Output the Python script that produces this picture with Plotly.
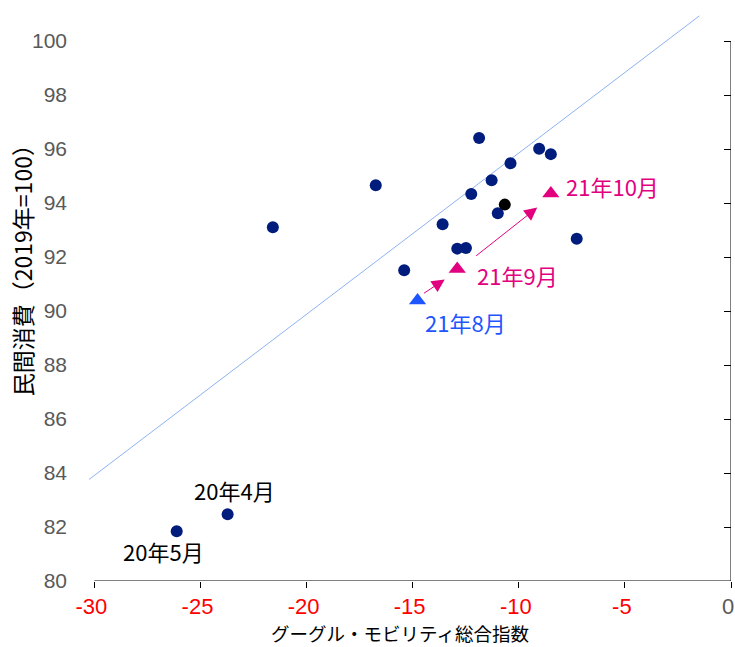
import plotly.graph_objects as go

# ---- data ----
mobility = [-26.12, -23.72, -21.59, -16.74, -15.40, -13.59, -12.90, -12.49, -12.24,
            -11.87, -11.28, -10.99, -10.39, -9.04, -8.49, -7.27]
consumption = [81.84, 82.47, 93.10, 94.66, 91.51, 93.21, 92.31, 92.33, 94.33,
               96.41, 94.84, 93.62, 95.47, 96.01, 95.81, 92.68]

black_x = [-10.66]
black_y = [93.94]

aug_x = [-14.77]
aug_y = [90.39]
sep_oct_x = [-12.90, -8.49]
sep_oct_y = [91.56, 94.35]

trend_x = [-30.25, -1.49]
trend_y = [83.76, 100.93]

arrow_tail_x = [-14.54, -12.08]
arrow_tail_y = [90.62, 92.00]
arrow_head_x = [-13.49, -9.13]
arrow_head_y = [91.17, 93.83]

x_ticks = [-30, -25, -20, -15, -10, -5, 0]
x_ticktext = ["-30", "-25", "-20", "-15", "-10", "-5", '<span style="color:#595959">0</span>']
y_ticks = [80, 82, 84, 86, 88, 90, 92, 94, 96, 98, 100]

NAVY = "#001C7C"
BLUE = "#1F55FF"
PINK = "#E3007F"
JP = "Noto Sans CJK JP"
LAT = "Liberation Sans, Arial"

fig = go.Figure()

fig.add_trace(go.Scatter(x=trend_x, y=trend_y, mode="lines",
                         line=dict(color="#8DB3F2", width=1), hoverinfo="skip"))
fig.add_trace(go.Scatter(x=mobility, y=consumption, mode="markers",
                         marker=dict(color=NAVY, size=12)))
fig.add_trace(go.Scatter(x=black_x, y=black_y, mode="markers",
                         marker=dict(color="#000000", size=12)))
fig.add_trace(go.Scatter(x=aug_x, y=aug_y, mode="markers",
                         marker=dict(color=BLUE, size=15, symbol="triangle-up")))
fig.add_trace(go.Scatter(x=sep_oct_x, y=sep_oct_y, mode="markers",
                         marker=dict(color=PINK, size=15, symbol="triangle-up")))
# empty trace so the right-hand tick axis is drawn
fig.add_trace(go.Scatter(x=[None], y=[None], yaxis="y2", mode="markers",
                         hoverinfo="skip"))

annotations = []
# arrows
for tx, ty, hx, hy in zip(arrow_tail_x, arrow_tail_y, arrow_head_x, arrow_head_y):
    annotations.append(dict(x=hx, y=hy, ax=tx, ay=ty, xref="x", yref="y",
                            axref="x", ayref="y", text="", showarrow=True,
                            arrowhead=2, arrowsize=2.6, arrowwidth=1, arrowcolor=PINK))

# point labels
labels = [
    ("21年10月", sep_oct_x[1], sep_oct_y[1], PINK, "left", 13, 8),
    ("21年9月", sep_oct_x[0], sep_oct_y[0], PINK, "left", 18, -6.5),
    ("21年8月", aug_x[0], aug_y[0], BLUE, "left", 5, -22),
    ("20年4月", mobility[1], consumption[1], "#000000", "center", 6.5, 24),
    ("20年5月", mobility[0], consumption[0], "#000000", "center", -13.7, -20),
]
for txt, x, y, col, xa, xs, ys in labels:
    annotations.append(dict(x=x, y=y, xref="x", yref="y", text=txt, showarrow=False,
                            xanchor=xa, yanchor="middle", xshift=xs, yshift=ys,
                            font=dict(family=JP, size=22, color=col)))

# axis titles
annotations.append(dict(x=-15.6, y=-0.092, xref="x", yref="paper",
                        text="グーグル・モビリティ総合指数", showarrow=False,
                        xanchor="center", yanchor="middle",
                        font=dict(family=JP, size=18.5, color="#000000")))
annotations.append(dict(x=-0.1026, y=0.557, xref="paper", yref="paper",
                        text="民間消費（2019年=100）", showarrow=False, textangle=-90,
                        xanchor="center", yanchor="middle",
                        font=dict(family=JP, size=23, color="#000000")))

shapes = [
    dict(type="line", xref="x", yref="y", x0=-30, x1=0, y0=80, y1=80,
         line=dict(color="#000000", width=1)),
    dict(type="line", xref="x", yref="y", x0=0, x1=0, y0=80, y1=100,
         line=dict(color="#000000", width=1)),
]

fig.update_layout(
    width=735, height=647,
    margin=dict(l=88, r=4, t=14, b=66, autoexpand=False),
    paper_bgcolor="white", plot_bgcolor="white",
    showlegend=False,
    annotations=annotations,
    shapes=shapes,
    xaxis=dict(range=[-30.3, 0], tickvals=x_ticks, ticktext=x_ticktext,
               ticks="outside", ticklen=6, tickcolor="#000000", tickwidth=1,
               ticklabeloverflow="allow", ticklabelshift=-3,
               showline=False, showgrid=False, zeroline=False,
               tickfont=dict(family=LAT, size=22, color="#FF0000")),
    yaxis=dict(range=[80, 101], tickvals=y_ticks, ticks="", ticklabelstandoff=20,
               showline=False, showgrid=False, zeroline=False,
               tickfont=dict(family=LAT, size=21, color="#595959")),
    yaxis2=dict(range=[80, 101], overlaying="y", side="right", anchor="x",
                tickvals=y_ticks, ticks="inside", ticklen=7, tickcolor="#000000",
                showticklabels=False, showline=False, showgrid=False, zeroline=False),
)

fig.write_html(
    "out.html",
    config={"displayModeBar": False},
    post_script="document.body.style.margin='0';document.body.style.overflow='hidden';",
)
